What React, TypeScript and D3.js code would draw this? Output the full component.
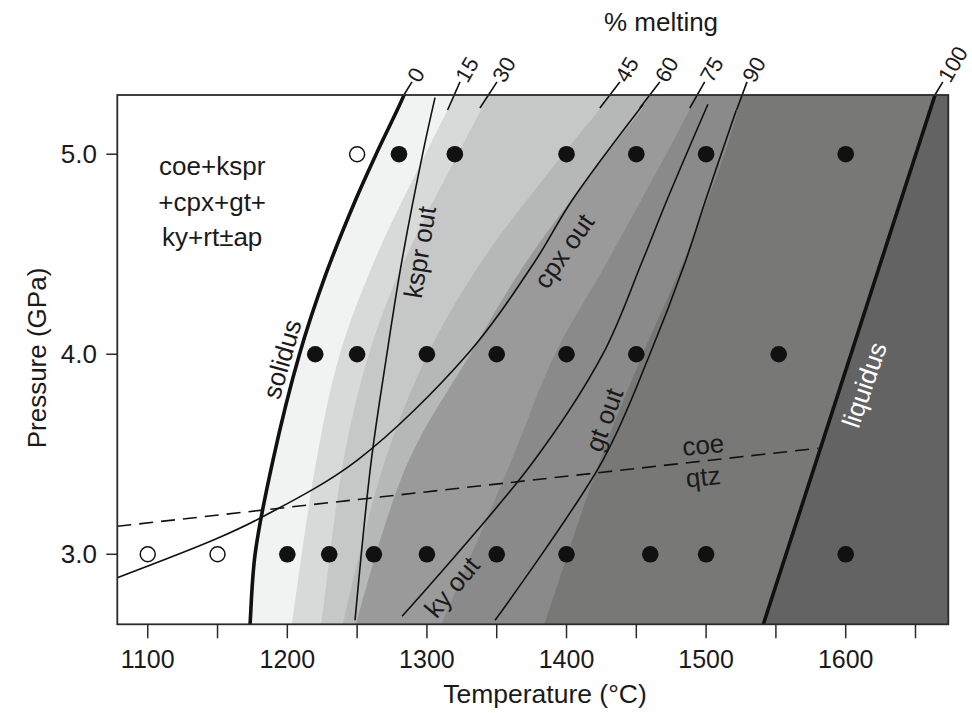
import React from 'react';
import * as d3 from 'd3';

// ---------- data ----------
const xDomain = [1078.2, 1673.5];
const yDomain = [2.65, 5.296];
const xTicks = [1100, 1150, 1200, 1250, 1300, 1350, 1400, 1450, 1500, 1550, 1600, 1650];
const xTickLabels = [1100, 1200, 1300, 1400, 1500, 1600];
const yTicks = [3.0, 4.0, 5.0];

// isopleths (T °C, P GPa), ordered by pressure
const solidus = [[1172.8, 2.6], [1173.3, 2.65], [1176.9, 3.0], [1189.7, 3.47], [1208.7, 4.0], [1227.6, 4.4], [1248.8, 4.77], [1263.6, 5.0], [1283.5, 5.295], [1285, 5.33]];
const iso15 = [[1202, 2.6], [1204, 2.69], [1220.6, 3.46], [1237.6, 4.0], [1262, 4.46], [1301, 5.03], [1314.8, 5.22], [1322.5, 5.33]];
const iso30 = [[1223, 2.6], [1225, 2.69], [1240, 3.46], [1258.4, 4.0], [1283.3, 4.46], [1324.4, 5.03], [1338.7, 5.22], [1347, 5.33]];
const iso45 = [[1238, 2.6], [1241, 2.69], [1269.6, 3.46], [1300.6, 4.0], [1338.8, 4.46], [1401, 5.03], [1423, 5.22], [1433, 5.33]];
const iso60 = [[1247.5, 2.6], [1250.7, 2.69], [1286.4, 3.46], [1331, 4.0], [1371, 4.46], [1431.9, 5.03], [1453.3, 5.22], [1463, 5.33]];
const iso75 = [[1307, 2.6], [1312.8, 2.69], [1360, 3.46], [1391.7, 4.0], [1429, 4.46], [1473.7, 5.03], [1488, 5.22], [1496, 5.33]];
const iso90 = [[1381.5, 2.6], [1386, 2.69], [1423.5, 3.46], [1454.5, 4.0], [1483.5, 4.46], [1514.6, 5.03], [1522.7, 5.22], [1527.5, 5.33]];
const liquidus = [[1539, 2.6], [1541, 2.65], [1664, 5.296], [1665.5, 5.33]];
const bandColors = ['#f1f2f2', '#d8d9d9', '#c6c7c7', '#b6b8b8', '#9a9a9a', '#8a8a8a', '#787877', '#636363'];

// phase-out lines
const ksprOut = [[1248.5, 2.67], [1260, 3.46], [1271.3, 4.0], [1281.9, 4.46], [1297.8, 5.03], [1305.8, 5.283]];
const cpxOut = [[1078.2, 2.883], [1150, 3.08], [1183, 3.19], [1250, 3.47], [1329, 4.0], [1377, 4.46], [1404, 4.77], [1455, 5.25]];
const kyOut = [[1282.2, 2.69], [1375.9, 3.46], [1426, 4.0], [1454, 4.46], [1471.9, 4.77], [1501.3, 5.25]];
const gtOut = [[1348.8, 2.67], [1426, 3.47], [1459.7, 4.0], [1485, 4.46], [1499.6, 4.77], [1521.6, 5.22]];
const coeQtz = [[1078.2, 3.14], [1580, 3.53]];

// experiments
const openPts = [[1250, 5.0], [1100, 3.0], [1150, 3.0]];
const filledT5 = [1280, 1320, 1400, 1450, 1500, 1600];
const filledT4 = [1220, 1250, 1300, 1350, 1400, 1450, 1552];
const filledT3 = [1200, 1230, 1262, 1300, 1350, 1400, 1460, 1500, 1600];

// % melting labels and leaders
const pctLabels = ['0', '15', '30', '45', '60', '75', '90', '100'];
const leaderStart = [[1283.5, 5.296], [1314.8, 5.221], [1338, 5.231], [1423.9, 5.231], [1452.5, 5.231], [1488.3, 5.231], [1521.8, 5.221], [1663.9, 5.296]];
const leaderEnd = [[1289.3, 5.3615], [1323.7, 5.3615], [1350.2, 5.3615], [1438.2, 5.3615], [1466.8, 5.3615], [1499, 5.3615], [1529.3, 5.3615], [1669.6, 5.3615]];

// in-plot labels: [text, T, P, rotation, colour]
const curveLabels: [string, number, number, number, string][] = [
  ['solidus', 1196.2, 3.976, -74, '#1a1a1a'],
  ['kspr out', 1295, 4.51, -81, '#1a1a1a'],
  ['cpx out', 1398.2, 4.516, -55, '#1a1a1a'],
  ['ky out', 1318, 2.836, -50, '#1a1a1a'],
  ['gt out', 1426.9, 3.672, -70, '#1a1a1a'],
  ['liquidus', 1613.3, 3.847, -71, '#ffffff'],
  ['coe', 1497.9, 3.547, -6, '#1a1a1a'],
  ['qtz', 1497.9, 3.387, -6, '#1a1a1a'],
];
const assemblage = ['coe+kspr', '+cpx+gt+', 'ky+rt\u00b1ap'];
const assemblageT = 1146.2;
const assemblageP = [4.8965, 4.7165, 4.5415];

const FONT = "'Liberation Sans', Arial, Helvetica, sans-serif";

export default function App() {
  const W = 972, H = 713;
  const left = 117.3, right = 948.3, top = 95, bottom = 624.3;
  const x = d3.scaleLinear().domain(xDomain).range([left, right]);
  const y = d3.scaleLinear().domain(yDomain).range([bottom, top]);

  const line = d3.line<number[]>().x(d => x(d[0])).y(d => y(d[1])).curve(d3.curveCatmullRom.alpha(0.5));
  const straight = d3.line<number[]>().x(d => x(d[0])).y(d => y(d[1]));

  const isos = [solidus, iso15, iso30, iso45, iso60, iso75, iso90, liquidus];
  const bandPath = (pts: number[][]) => {
    const p = line(pts) as string;
    return `${p}L${right + 20},${top - 20}L${right + 20},${bottom + 20}Z`;
  };

  const filled: number[][] = [
    ...filledT5.map(t => [t, 5.0]),
    ...filledT4.map(t => [t, 4.0]),
    ...filledT3.map(t => [t, 3.0]),
  ];

  const ang = -60 * Math.PI / 180;

  return (
    <svg width={W} height={H} style={{ display: 'block', position: 'absolute', left: 0, top: 0 }} fontFamily={FONT}>
      <defs>
        <clipPath id="plot">
          <rect x={left} y={top} width={right - left} height={bottom - top} />
        </clipPath>
      </defs>
      <rect x={0} y={0} width={W} height={H} fill="#ffffff" />
      <g clipPath="url(#plot)">
        <rect x={left} y={top} width={right - left} height={bottom - top} fill="#ffffff" />
        {isos.map((pts, i) => (
          <path key={i} d={bandPath(pts)} fill={bandColors[i]} stroke="none" />
        ))}
        <path d={straight(coeQtz) as string} fill="none" stroke="#111" strokeWidth={1.6} strokeDasharray="14,8" />
        {[ksprOut, cpxOut, kyOut, gtOut].map((pts, i) => (
          <path key={i} d={line(pts) as string} fill="none" stroke="#111" strokeWidth={1.6} />
        ))}
        <path d={line(solidus) as string} fill="none" stroke="#111" strokeWidth={3.6} />
        <path d={straight(liquidus) as string} fill="none" stroke="#111" strokeWidth={3.6} />
        {openPts.map((d, i) => (
          <circle key={'o' + i} cx={x(d[0])} cy={y(d[1])} r={7.5} fill="#fff" stroke="#111" strokeWidth={1.5} />
        ))}
        {filled.map((d, i) => (
          <circle key={'f' + i} cx={x(d[0])} cy={y(d[1])} r={8.3} fill="#111" />
        ))}
        {curveLabels.map(([t, T, P, r, c], i) => (
          <text key={'l' + i} x={x(T)} y={y(P)} fontSize={26} fill={c} textAnchor="middle" dominantBaseline="central"
            transform={`rotate(${r},${x(T)},${y(P)})`}>{t}</text>
        ))}
        {assemblage.map((t, i) => (
          <text key={'a' + i} x={x(assemblageT)} y={y(assemblageP[i])} fontSize={26} fill="#1a1a1a" textAnchor="middle">{t}</text>
        ))}
      </g>
      {/* leaders and % labels */}
      {pctLabels.map((lab, i) => {
        const x0 = x(leaderStart[i][0]), y0 = y(leaderStart[i][1]);
        const x1 = x(leaderEnd[i][0]), y1 = y(leaderEnd[i][1]);
        const tx = x1 + 2 * Math.cos(ang), ty = y1 + 2 * Math.sin(ang);
        return (
          <g key={'p' + i}>
            <line x1={x0} y1={y0} x2={x1} y2={y1} stroke="#111" strokeWidth={1.6} />
            <text x={tx} y={ty} fontSize={22} fill="#1a1a1a" textAnchor="start" dominantBaseline="central"
              transform={`rotate(-60,${tx},${ty})`}>{lab}</text>
          </g>
        );
      })}
      <text x={661} y={31} fontSize={26} fill="#1a1a1a" textAnchor="middle">% melting</text>
      {/* frame */}
      <rect x={left} y={top} width={right - left} height={bottom - top} fill="none" stroke="#2a2a2a" strokeWidth={1.8} />
      {/* x axis */}
      {xTicks.map(t => (
        <line key={'xt' + t} x1={x(t)} x2={x(t)} y1={bottom} y2={bottom + 14} stroke="#2a2a2a" strokeWidth={1.5} />
      ))}
      {xTickLabels.map(t => (
        <text key={'xl' + t} x={x(t)} y={668} fontSize={25} fill="#1a1a1a" textAnchor="middle">{t}</text>
      ))}
      <text x={545} y={703} fontSize={26.5} fill="#1a1a1a" textAnchor="middle">Temperature (°C)</text>
      {/* y axis */}
      {yTicks.map(t => (
        <line key={'yt' + t} x1={left - 11} x2={left} y1={y(t)} y2={y(t)} stroke="#2a2a2a" strokeWidth={1.5} />
      ))}
      {yTicks.map(t => (
        <text key={'yl' + t} x={97} y={y(t)} fontSize={26} fill="#1a1a1a" textAnchor="end" dominantBaseline="central">{d3.format('.1f')(t)}</text>
      ))}
      <text x={46} y={358} fontSize={26} fill="#1a1a1a" textAnchor="middle" transform="rotate(-90,46,358)">Pressure (GPa)</text>
    </svg>
  );
}
